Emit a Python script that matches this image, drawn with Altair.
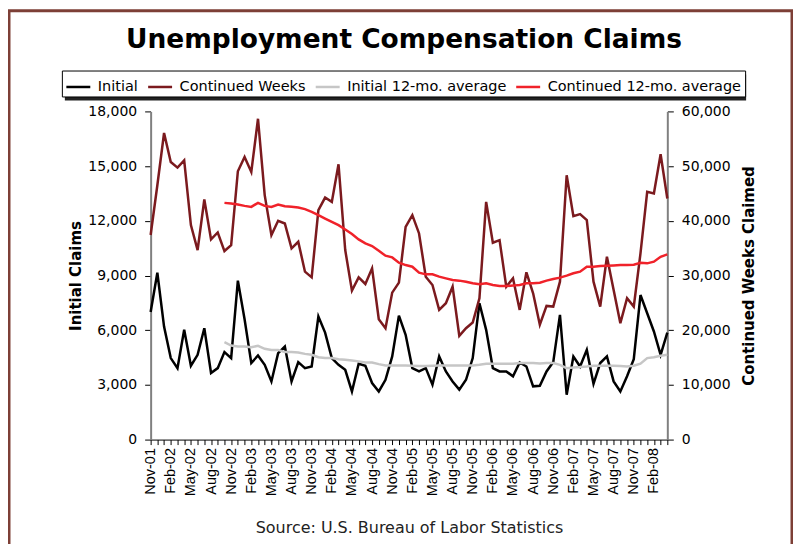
import altair as alt
import pandas as pd

months = pd.date_range("2001-11-01", "2008-04-01", freq="MS").strftime("%b-%y").tolist()

initial = [7000, 9150, 6200, 4470, 3920, 6020, 4050, 4650, 6110, 3650, 3920, 4800,
           4470, 8720, 6600, 4200, 4610, 4100, 3190, 4740, 5100, 3190, 4250, 3920,
           4010, 6750, 5870, 4470, 4100, 3830, 2640, 4160, 4050, 3100, 2640, 3280,
           4560, 6800, 5750, 3920, 3740, 3920, 3010, 4560, 3740, 3190, 2740, 3280,
           4470, 7480, 6020, 3920, 3740, 3740, 3470, 4230, 4010, 2920, 2950, 3740,
           4250, 6840, 2460, 4560, 4010, 4920, 3060, 4200, 4560, 3190, 2640, 3470,
           4410, 7930, 6930, 5930, 4650, 5870]

continued = [37400, 46500, 56050, 50760, 49730, 51060, 39210, 34650, 43890, 36600, 37870, 34470,
             35560, 49060, 51670, 48930, 58660, 44700, 37390, 40000, 39510, 34950, 36170, 30700,
             29660, 41950, 44250, 43460, 50330, 34650, 27230, 29660, 28450, 31310, 22010, 20360,
             26870, 28690, 38900, 41030, 37690, 29780, 28270, 23710, 24930, 27960, 18970, 20360,
             21400, 25840, 43460, 35990, 36470, 27960, 29480, 23710, 30580, 26750, 21000, 24440,
             24320, 28870, 48330, 40850, 41220, 40120, 28870, 24320, 33430, 27360, 21280, 25840,
             24320, 34040, 45290, 44990, 52160, 44070]

# 12-month averages start at Oct-02 (index 11)
avg_start = 11
initial_avg = [5340, 5160, 5110, 5110, 5070, 5140, 4980, 4920, 4920,
               4800, 4800, 4780, 4700, 4650, 4520, 4470, 4470, 4410, 4380, 4340, 4290, 4230,
               4230, 4140, 4070, 4070, 4070, 4070,
               4050, 4030, 4030, 4050, 4070, 4070, 4070, 4070, 4070, 4070, 4100, 4160, 4160,
               4160, 4160, 4160, 4200, 4200, 4200, 4170,
               4200, 4200, 4100, 3920, 3960, 3980, 4010, 4050, 4050, 4050, 4050, 4030, 4010,
               4050, 4160, 4470, 4520, 4600, 4650]

continued_avg = [43280, 43160, 42980, 42730, 42550, 43280, 42730, 42550, 42980,
                 42670, 42550, 42430, 42130, 41640, 41030, 40420, 39810, 39210, 38420, 37570,
                 36600, 35870, 35380, 34530, 33620, 33310, 32340, 31910,
                 31610, 30520, 30210, 30210, 29790, 29480, 29180, 29060, 28870, 28570, 28390,
                 28570, 28270, 28080, 28080, 28150, 28270, 28570, 28570, 28690,
                 29060, 29360, 29610, 29970, 30400, 30700, 31610, 31610, 31730, 31790, 31850,
                 31910, 31910, 31980, 32340, 32220, 32520, 33430, 33860]

names = ["Initial", "Continued Weeks", "Initial 12-mo. average", "Continued 12-mo. average"]
colors = ["#000000", "#7B1A1E", "#C6C6C6", "#F0222A"]

left_rows = [{"month": m, "series": names[0], "value": v, "order": 0} for m, v in zip(months, initial)]
left_rows += [{"month": m, "series": names[2], "value": v, "order": 2}
              for m, v in zip(months[avg_start:], initial_avg)]
right_rows = [{"month": m, "series": names[1], "value": v, "order": 1} for m, v in zip(months, continued)]
right_rows += [{"month": m, "series": names[3], "value": v, "order": 3}
               for m, v in zip(months[avg_start:], continued_avg)]
left_df = pd.DataFrame(left_rows)
right_df = pd.DataFrame(right_rows)

FONT = "DejaVu Sans"

x_enc = alt.X(
    "month:O",
    scale=alt.Scale(domain=months, type="point", padding=0),
    axis=alt.Axis(
        title="Source: U.S. Bureau of Labor Statistics",
        labelAngle=270,
        labelExpr="test(/^(Nov|Feb|May|Aug)/, datum.value) ? datum.value : ''",
        labelOverlap=False,
        labelFont="Liberation Sans", labelFontSize=14.5, labelColor="#000",
        labelPadding=3, tickSize=5, tickColor="#000", domainColor="#000",
        titleFont=FONT, titleFontSize=16, titleFontWeight="normal", titleColor="#222",
        titlePadding=24,
    ),
)

color_enc = alt.Color(
    "series:N",
    title=None,
    scale=alt.Scale(domain=names, range=colors),
    legend=alt.Legend(
        orient="none", legendX=-89, legendY=-41, direction="horizontal",
        strokeColor="#000", padding=3, fillColor="#fff",
        symbolType="stroke", symbolSize=576, symbolStrokeWidth=2.5,
        labelFont=FONT, labelFontSize=14.5, labelColor="#000", labelLimit=400,
        columnPadding=4, labelOffset=6,
    ),
)

left = alt.Chart(left_df).mark_line(strokeWidth=2.5).encode(
    x=x_enc,
    y=alt.Y("value:Q", scale=alt.Scale(domain=[0, 18000]),
            axis=alt.Axis(values=[0, 3000, 6000, 9000, 12000, 15000, 18000], format=",.0f",
                          title="Initial Claims", titleFont=FONT, titleFontSize=15,
                          titleFontWeight="bold", titleColor="#000", titlePadding=4,
                          labelFont=FONT, labelFontSize=14, labelColor="#000", labelPadding=8,
                          tickSize=6, tickColor="#000", domainColor="#808080", domainWidth=2,
                          grid=False)),
    color=color_enc,
    order=alt.Order("order:Q"),
)

right = alt.Chart(right_df).mark_line(strokeWidth=2.5).encode(
    x=x_enc,
    y=alt.Y("value:Q", scale=alt.Scale(domain=[0, 60000]),
            axis=alt.Axis(orient="right", values=[0, 10000, 20000, 30000, 40000, 50000, 60000],
                          format=",.0f", title="Continued Weeks Claimed", titleFont=FONT,
                          titleFontSize=15, titleFontWeight="bold", titleColor="#000",
                          titleAngle=270, titleBaseline="top", titlePadding=11,
                          labelFont=FONT, labelFontSize=14, labelColor="#000", labelPadding=8,
                          tickSize=6, tickColor="#000", domainColor="#808080", domainWidth=2,
                          grid=False)),
    color=color_enc,
)

frame = alt.Chart(alt.Data(values=[{}])).mark_rect(
    filled=False, stroke="#7D3F36", strokeWidth=3
).encode(
    x=alt.value(-142), x2=alt.value(643), y=alt.value(-101), y2=alt.value(445)
)

legend_shadow = alt.Chart(alt.Data(values=[{}])).mark_rect(fill="#222222").encode(
    x=alt.value(-86), x2=alt.value(597), y=alt.value(-37), y2=alt.value(-11)
)

chart = alt.layer(frame, legend_shadow, left, right).resolve_scale(y="independent").properties(
    width=518,
    height=329,
    autosize=alt.AutoSizeParams(type="none"),
    padding={"left": 143, "top": 103, "right": 126, "bottom": 104},
    background="#ffffff",
    title=alt.TitleParams(
        "Unemployment Compensation Claims", font=FONT, fontSize=26.5, fontWeight="bold",
        color="#000", anchor="middle", offset=18, dx=-5, dy=62,
    ),
).configure_view(strokeWidth=0)

chart.save("out.html", embed_options={"renderer": "svg", "actions": False})
